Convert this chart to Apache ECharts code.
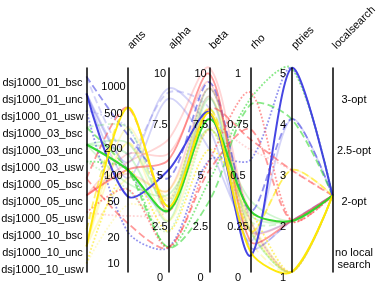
<!DOCTYPE html>
<html><head><meta charset="utf-8">
<script src="https://cdn.jsdelivr.net/npm/echarts@6/dist/echarts.min.js"></script>
<style>html,body{margin:0;padding:0;background:#fff}#c{width:382px;height:287px}</style>
</head><body><div id="c"></div>
<script>
// ---- axis categories / tick labels ----
const instances = ['dsj1000_01_bsc','dsj1000_01_unc','dsj1000_01_usw',
  'dsj1000_03_bsc','dsj1000_03_unc','dsj1000_03_usw',
  'dsj1000_05_bsc','dsj1000_05_unc','dsj1000_05_usw',
  'dsj1000_10_bsc','dsj1000_10_unc','dsj1000_10_usw'];
const localSearchLevels = ['3-opt','2.5-opt','2-opt','no local search'];
const antsTicks = [10,20,50,100,200,500,1000];
const alphaTicks = [0,2.5,5,7.5,10];
const betaTicks = [0,2.5,5,7.5,10];
const rhoTicks = [0,0.25,0.5,0.75,1];
const ptriesTicks = [1,2,3,4,5];
const axisNames = ['', 'ants', 'alpha', 'beta', 'rho', 'ptries', 'localsearch'];

// ---- configurations (one entry per line) ----
const lineInstance = [
  'dsj1000_01_bsc','dsj1000_01_bsc','dsj1000_01_unc','dsj1000_01_unc','dsj1000_01_unc','dsj1000_01_usw','dsj1000_01_usw','dsj1000_01_unc',
  'dsj1000_03_bsc','dsj1000_03_bsc','dsj1000_03_unc','dsj1000_03_unc','dsj1000_03_unc','dsj1000_03_usw','dsj1000_03_usw','dsj1000_03_unc',
  'dsj1000_05_bsc','dsj1000_05_bsc','dsj1000_05_unc','dsj1000_05_unc','dsj1000_05_unc','dsj1000_05_usw','dsj1000_05_usw','dsj1000_05_unc',
  'dsj1000_10_bsc','dsj1000_10_bsc','dsj1000_10_unc','dsj1000_10_unc','dsj1000_10_unc','dsj1000_10_usw','dsj1000_10_usw','dsj1000_10_unc'];
const lineAnts   = [250,150, 50,120, 80, 20,300,100,  100,300,100,150, 70,100, 60,200,  500, 25,100,120, 90, 60, 30,150,  500,200,500,200, 80,100, 40,300];
const lineAlpha  = [4.6,8.8,5.0,9.0,8.5,1.2,3.5,3.0, 1.2,3.0,3.0,2.5,3.8,1.2,2.0,3.3, 3.0,1.2,5.5,6.5,4.0,1.2,3.0,5.8, 3.0,3.5,3.2,2.5,4.0,2.0,3.0,3.6];
const lineBeta   = [9.3,8.0,7.8,7.0,6.0,5.5,9.0,8.6, 3.5,8.0,7.5,8.5,7.0,4.5,7.0,9.0, 8.0,5.0,9.7,10,9.0,5.5,7.0,9.3, 8.0,7.5,7.8,7.0,8.0,6.0,7.0,8.6];
const lineRho    = [0.3,0.12,0.08,0.15,0.2,0.55,0.25,0.12, 0.82,0.25,0.3,0.2,0.35,0.85,0.2,0.28, 0.65,0.7,0.15,0.25,0.3,0.88,0.6,0.2, 0.2,0.15,0.1,0.25,0.2,0.3,0.2,0.22];
const linePtries = [4,2,5,4,2,5,1,2, 4,2,2,1,2,5,1,2, 3,2,2,1,2,2,3,2, 3,1,1,1,3,1,1,1];
const lineLocalSearch = Array(32).fill('2-opt');
const lineRank   = [2,3,1,3,3,2,3,3, 2,3,1,3,3,2,3,3, 2,2,2,3,3,2,3,3, 2,3,1,3,3,2,3,3];

// ---- styles ----
const groupColor = {'01':'rgb(60,60,225)','03':'rgb(40,215,40)','05':'rgb(255,70,70)','10':'rgb(255,232,0)'};
const variantType = {bsc:'dashed', unc:'solid', usw:'dotted'};
const rankOpacity = {1:0.95, 2:0.55, 3:0.22};

const data = lineInstance.map((inst, i) => {
  const parts = inst.split('_');
  return {
    value: [inst, Math.log10(lineAnts[i]), lineAlpha[i], lineBeta[i], lineRho[i], linePtries[i], lineLocalSearch[i]],
    lineStyle: { color: groupColor[parts[1]], type: variantType[parts[2]], opacity: rankOpacity[lineRank[i]], width: lineRank[i] === 1 ? 2 : 1.8 }
  };
});
data.sort((a, b) => a.lineStyle.opacity - b.lineStyle.opacity);

const FONT = 'Liberation Sans';
const lblBase = { fontSize: 11, color: '#000', fontFamily: FONT, verticalAlign: 'top', lineHeight: 12, align: 'center' };
const nameStyle = { fontSize: 11, color: '#000', fontFamily: FONT, align: 'left', verticalAlign: 'bottom', padding: [0, 0, 0, 8] };
function numAxis(dim, ticks, min, max, margin, fmt) {
  return {
    dim, type: 'value', min, max, name: axisNames[dim], nameLocation: 'end', nameGap: 11, nameRotate: 45,
    nameTextStyle: nameStyle,
    axisLine: { lineStyle: { color: '#000', width: 1.5 } },
    axisTick: { show: false }, splitLine: { show: false },
    axisLabel: Object.assign({}, lblBase, { margin: -margin, customValues: ticks, formatter: fmt || (v => String(v)) })
  };
}
const antsLog = antsTicks.map(v => Math.log10(v));
const option = {
  animation: false,
  backgroundColor: '#fff',
  parallel: { left: 86.5, right: 49.5, top: 68, bottom: 15, layout: 'horizontal' },
  parallelAxis: [
    { dim: 0, type: 'category', data: instances, inverse: true, boundaryGap: true, name: '',
      axisLine: { lineStyle: { color: '#000', width: 1.5 } }, axisTick: { show: false },
      axisLabel: Object.assign({}, lblBase, { margin: -44, interval: 0 }) },
    numAxis(1, antsLog, Math.log10(7), Math.log10(1400), 14, v => String(Math.round(Math.pow(10, v)))),
    numAxis(2, alphaTicks, 0, 10, 8.5),
    numAxis(3, betaTicks, 0, 10, 9),
    numAxis(4, rhoTicks, 0, 1, 12.5),
    numAxis(5, ptriesTicks, 1, 5, 8.5),
    { dim: 6, type: 'category', data: localSearchLevels, inverse: true, boundaryGap: true, name: axisNames[6],
      nameLocation: 'start', nameGap: 11, nameRotate: 45, nameTextStyle: nameStyle,
      axisLine: { lineStyle: { color: '#000', width: 1.5 } }, axisTick: { show: false },
      axisLabel: Object.assign({}, lblBase, { margin: 21.5, interval: 0,
        formatter: v => v === 'no local search' ? 'no local\nsearch' : v }) }
  ],
  series: [{
    type: 'parallel', smooth: true, silent: true, progressive: 0,
    inactiveOpacity: 1, activeOpacity: 1,
    emphasis: { disabled: true },
    data
  }]
};
const chart = echarts.init(document.getElementById('c'), null, { renderer: 'canvas' });
chart.setOption(option);
</script></body></html>
